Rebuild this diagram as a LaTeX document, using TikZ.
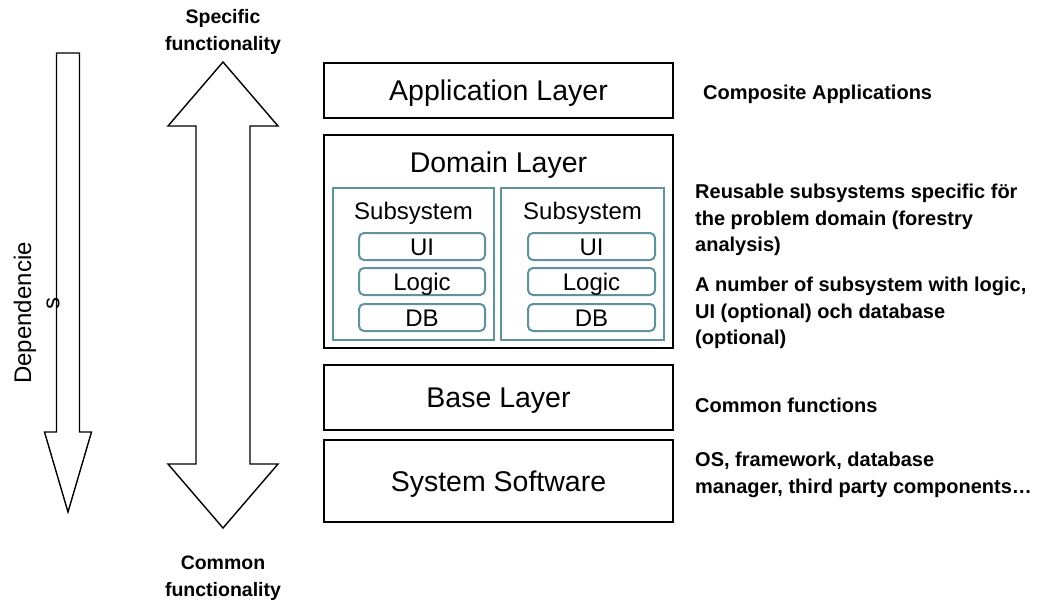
\documentclass[tikz,border=0pt]{standalone}
\usepackage{fontspec}
\setmainfont{Liberation Sans}
\definecolor{ssteal}{RGB}{96,146,158}
\begin{document}
\begin{tikzpicture}[x=1pt,y=-1pt,
  layerfont/.style={font=\fontsize{28.5}{34}\selectfont, text height=20.4pt, text depth=0pt},
  subfont/.style={font=\fontsize{24}{28}\selectfont, text height=17.2pt, text depth=0pt},
  layer/.style={draw, line width=2.8pt, inner sep=0pt, layerfont},
  ssbox/.style={draw=ssteal, line width=1.6pt, inner sep=0pt},
  part/.style={draw=ssteal, line width=2pt, rounded corners=5pt, inner sep=0pt, minimum height=27pt, subfont},
  note/.style={anchor=west, align=left, inner sep=0pt, font=\bfseries\fontsize{20}{26.5}\selectfont},
  endlabel/.style={align=center, inner sep=0pt, font=\bfseries\fontsize{19.5}{26.5}\selectfont},
  bigarrow/.style={draw, line width=1.4pt, fill=white, line join=miter}]
\useasboundingbox (0,0) rectangle (1039,602);

% left dependency arrow
\draw[bigarrow] (56.5,53) -- (79.5,53) -- (79.5,432) -- (91.5,432) -- (68,512) -- (44.5,432) -- (56.5,432) -- cycle;
\node[rotate=90, inner sep=0pt, font=\fontsize{24}{28}\selectfont] (dep1) at (25,313) {Dependencie};
\node[rotate=90, inner sep=0pt, font=\fontsize{24}{28}\selectfont] (dep2) at (53,303) {s};

% double arrow
\draw[bigarrow] (223,62) -- (278,126) -- (250,126) -- (250,464) -- (278,464) -- (223,528) -- (168,464) -- (196,464) -- (196,126) -- (168,126) -- cycle;
\node[endlabel] (spec) at (223,32) {Specific\\functionality};
\node[endlabel] (comm) at (223,578) {Common\\functionality};

% layers
\node[layer, minimum width=349pt, minimum height=55pt] (app) at (498.5,90.5) {Application Layer};
\node[layer, minimum width=349pt, minimum height=213pt] (dom) at (498.5,241.5) {};
\node[inner sep=0pt, layerfont] (domt) at (498.5,162) {Domain Layer};
\node[layer, minimum width=349pt, minimum height=65pt] (base) at (498.5,397.5) {Base Layer};
\node[layer, minimum width=349pt, minimum height=82pt] (sys) at (498.5,481) {System Software};

% subsystems
\node[ssbox, minimum width=161pt, minimum height=152pt] (ss1) at (413.5,264) {};
\node[ssbox, minimum width=163pt, minimum height=152pt] (ss2) at (582.5,264) {};
\node[inner sep=0pt, subfont] (ss1t) at (413.5,211) {Subsystem};
\node[inner sep=0pt, subfont] (ss2t) at (582.5,211) {Subsystem};
\node[part, minimum width=126pt] (ui1) at (422,246.5) {UI};
\node[part, minimum width=126pt] (lo1) at (422,281.5) {Logic};
\node[part, minimum width=126pt] (db1) at (422,317.5) {DB};
\node[part, minimum width=127pt] (ui2) at (591.5,246.5) {UI};
\node[part, minimum width=127pt] (lo2) at (591.5,281.5) {Logic};
\node[part, minimum width=127pt] (db2) at (591.5,317.5) {DB};

% notes
\node[note] (n1) at (703,94) {Composite Applications};
\node[note] (n2) at (695,220) {Reusable subsystems specific för\\the problem domain (forestry\\analysis)};
\node[note] (n3) at (695,313) {A number of subsystem with logic,\\UI (optional) och database\\(optional)};
\node[note] (n4) at (695,405) {Common functions};
\node[note] (n5) at (695,475) {OS, framework, database\\manager, third party components\dots};
\end{tikzpicture}
\end{document}
